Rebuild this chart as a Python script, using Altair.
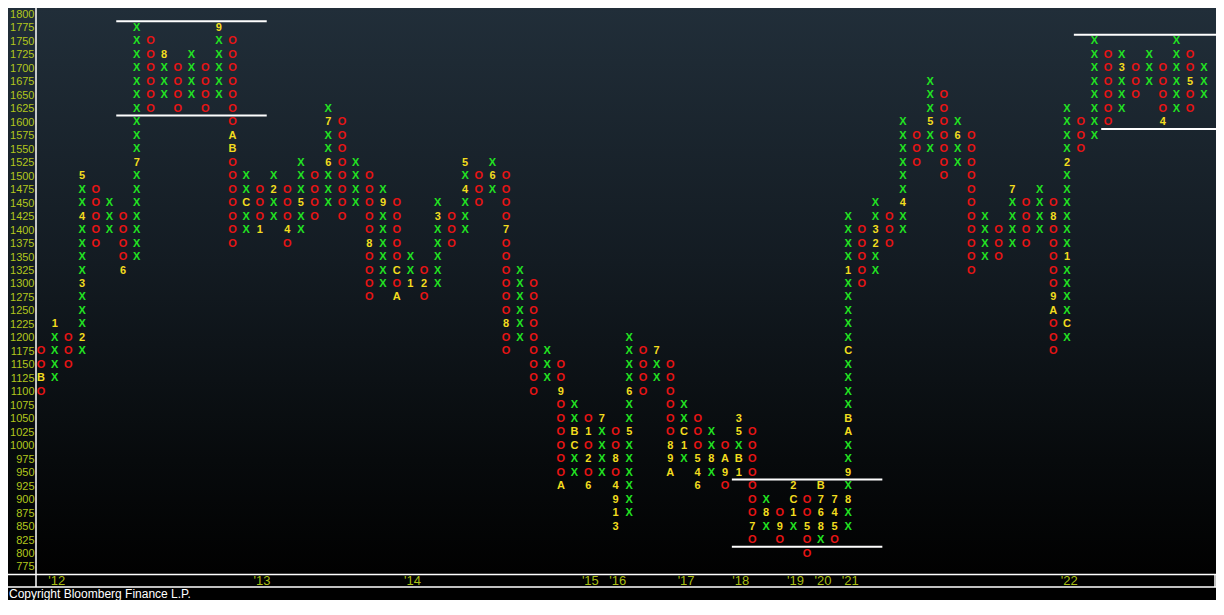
import altair as alt
import pandas as pd

# ---- point & figure columns (box size 25) ----
col_kind = ["O", "X"] * 43
col_low = [1100, 1125, 1150, 1175, 1375, 1400, 1325, 1350, 1625, 1650,
           1625, 1650, 1625, 1650, 1375, 1400, 1400, 1425, 1375, 1400,
           1425, 1450, 1425, 1450, 1275, 1300, 1275, 1300, 1275, 1300,
           1375, 1400, 1450, 1475, 1175, 1200, 1100, 1125, 925, 950,
           925, 950, 850, 875, 1100, 1125, 950, 975, 925, 950,
           925, 950, 825, 850, 825, 850, 800, 825, 825, 850,
           1300, 1325, 1375, 1400, 1525, 1550, 1500, 1525, 1325, 1350,
           1350, 1375, 1375, 1400, 1175, 1200, 1550, 1575, 1600, 1625,
           1650, 1675, 1600, 1625, 1625, 1650]
col_high = [1175, 1225, 1200, 1500, 1475, 1450, 1425, 1775, 1750, 1725,
            1700, 1725, 1700, 1775, 1750, 1500, 1475, 1500, 1475, 1525,
            1500, 1625, 1600, 1525, 1500, 1475, 1450, 1350, 1325, 1450,
            1425, 1525, 1500, 1525, 1500, 1325, 1300, 1175, 1150, 1075,
            1050, 1050, 1025, 1200, 1175, 1175, 1150, 1075, 1050, 1025,
            1000, 1050, 1025, 900, 875, 925, 900, 925, 900, 1425,
            1400, 1450, 1425, 1600, 1575, 1675, 1650, 1600, 1575, 1425,
            1400, 1475, 1450, 1475, 1450, 1625, 1600, 1750, 1725, 1725,
            1700, 1725, 1700, 1750, 1725, 1700]

# month markers (column, price, label)
mark_col = [1, 2, 4, 4, 4, 4, 7, 8, 10, 14, 15, 15, 16, 17, 18, 19, 20, 22, 22,
            25, 26, 27, 27, 28, 29, 30, 32, 32, 34, 35, 35, 39, 39, 40, 40,
            41, 41, 41, 42, 43, 43, 43, 43, 43, 44, 44, 46, 47, 47, 47, 48, 48,
            49, 49, 49, 50, 51, 51, 52, 52, 52, 52, 53, 54, 55, 56, 56, 56, 57,
            58, 58, 58, 58, 59, 59, 59, 60, 60, 60, 60, 60, 60, 62, 62, 64, 66,
            68, 72, 75, 75, 75, 76, 76, 76, 80, 83, 85]
mark_price = [1125, 1225, 1200, 1300, 1425, 1500, 1325, 1525, 1725, 1775, 1575, 1550,
              1450, 1400, 1475, 1400, 1450, 1525, 1600,
              1375, 1450, 1325, 1275, 1300, 1300, 1425, 1475, 1525, 1500, 1400, 1225,
              1100, 925, 1025, 1000,
              1025, 975, 925, 1050, 975, 925, 900, 875, 850, 1025, 1100, 1175,
              1000, 975, 950, 1025, 1000,
              975, 950, 925, 975, 975, 950, 950, 975, 1025, 1050, 850, 875, 850,
              875, 900, 925, 850,
              850, 875, 900, 925, 900, 875, 850, 900, 950, 1025, 1050, 1175, 1325,
              1375, 1400, 1450, 1600,
              1575, 1475, 1425, 1275, 1250, 1225, 1350, 1525, 1700, 1600, 1675]
mark_label = ["B", "1", "2", "3", "4", "5", "6", "7", "8", "9", "A", "B", "C", "1", "2", "4", "5", "6", "7",
              "8", "9", "C", "A", "1", "2", "3", "4", "5", "6", "7", "8", "9", "A", "B", "C",
              "1", "2", "6", "7", "8", "4", "9", "1", "3", "5", "6", "7", "8", "9", "A", "C", "1",
              "5", "4", "6", "8", "A", "9", "1", "B", "5", "3", "7", "8", "9", "1", "C", "2", "5",
              "8", "6", "7", "B", "7", "4", "5", "8", "9", "A", "B", "C", "1", "2", "3", "4", "5",
              "6", "7", "8", "9", "A", "C", "1", "2", "3", "4", "5"]

# year labels: column where the year begins
year_col = [2, 17, 28, 41, 43, 48, 52, 56, 58, 60, 76]
year_label = ["'12", "'13", "'14", "'15", "'16", "'17", "'18", "'19", "'20", "'21", "'22"]

y_ticks = [775, 800, 825, 850, 875, 900, 925, 950, 975, 1000, 1025, 1050, 1075, 1100,
           1125, 1150, 1175, 1200, 1225, 1250, 1275, 1300, 1325, 1350, 1375, 1400,
           1425, 1450, 1475, 1500, 1525, 1550, 1575, 1600, 1625, 1650, 1675, 1700,
           1725, 1750, 1775, 1800]

# white range lines
line_x1 = [6.5, 6.5, 51.5, 51.5, 76.5, 78.5]
line_x2 = [17.5, 17.5, 62.5, 62.5, 87.5, 87.5]
line_y = [1787.5, 1612.5, 937.5, 812.5, 1762.5, 1587.5]

# ---- build cells ----
markers = {(c, p): l for c, p, l in zip(mark_col, mark_price, mark_label)}
rows = []
for i, (k, lo, hi) in enumerate(zip(col_kind, col_low, col_high), start=1):
    for p in range(lo, hi + 1, 25):
        lab = markers.get((i, p))
        if lab is not None:
            rows.append({"col": i, "price": p, "sym": lab, "kind": "M"})
        else:
            rows.append({"col": i, "price": p, "sym": k, "kind": k})
cells = pd.DataFrame(rows)
lines = pd.DataFrame({"x1": line_x1, "x2": line_x2, "y": line_y})

W, H, PL = 1178, 566, 30
xscale = alt.Scale(domain=[0.78, 86.89], nice=False, zero=False)
yscale = alt.Scale(domain=[762, 1812], nice=False, zero=False)
NARROW = "Liberation Sans Narrow, Arial Narrow, Liberation Sans, sans-serif"

expr = "".join(f"datum.value == {c - 0.5} ? \"{l}\" : " for c, l in zip(year_col, year_label)) + "''"

x_axis = alt.Axis(values=[c - 0.5 for c in year_col], labelExpr=expr, labelAlign="left",
                  labelBaseline="top", labelColor="#a9be14", labelFont=NARROW, labelFontSize=13,
                  ticks=False, domain=False, grid=False, labelPadding=0, labelOverlap=False,
                  labelFlush=False, title=None, zindex=2)
y_axis = alt.Axis(values=y_ticks, format="d", labelColor="#b2c61c", labelFont=NARROW,
                  labelFontSize=11, ticks=False, domain=False, grid=False, labelPadding=4,
                  labelOverlap=False, labelFlush=False, title=None, zindex=2)

one = alt.Data(values=[{"a": 1}])

bg = alt.Chart(one).mark_rect(
    fill=alt.LinearGradient(
        gradient="linear",
        stops=[alt.GradientStop(color="#212e39", offset=0),
               alt.GradientStop(color="#131b22", offset=0.45),
               alt.GradientStop(color="#070a0c", offset=0.8),
               alt.GradientStop(color="#010101", offset=1)],
        x1=0, x2=0, y1=0, y2=1)
).encode(x=alt.value(-PL), x2=alt.value(W), y=alt.value(0), y2=alt.value(H))

rng = alt.Chart(lines).mark_rule(color="white", strokeWidth=2, clip=True).encode(
    x=alt.X("x1:Q", scale=xscale, axis=x_axis),
    x2="x2:Q",
    y=alt.Y("y:Q", scale=yscale, axis=y_axis),
)

frame_top = alt.Chart(one).mark_rule(color="white", strokeWidth=1.5).encode(
    x=alt.value(-PL), x2=alt.value(W), y=alt.value(H + 0.5))
frame_bot = alt.Chart(one).mark_rule(color="white", strokeWidth=1.5).encode(
    x=alt.value(-PL), x2=alt.value(W), y=alt.value(H + 13))
frame_left = alt.Chart(one).mark_rule(color="white", strokeWidth=1.5).encode(
    x=alt.value(-2), y=alt.value(0), y2=alt.value(H + 13))
frame_right = alt.Chart(one).mark_rule(color="white", strokeWidth=1.5).encode(
    x=alt.value(W - 1), y=alt.value(H), y2=alt.value(H + 13))

pts = alt.Chart(cells).mark_text(
    font="Liberation Sans", fontWeight="bold", fontSize=11, align="center", baseline="middle"
).encode(
    x=alt.X("col:Q", scale=xscale, axis=x_axis),
    y=alt.Y("price:Q", scale=yscale, axis=y_axis),
    text="sym:N",
    color=alt.Color("kind:N", scale=alt.Scale(domain=["X", "O", "M"],
                                              range=["#22e322", "#e81414", "#f2dc1e"]),
                    legend=None),
)

copy = alt.Chart(one).mark_text(
    align="left", baseline="alphabetic", color="white", font=NARROW, fontSize=12
).encode(x=alt.value(-PL + 1), y=alt.value(H + 24), text=alt.value("Copyright Bloomberg Finance L.P."))

chart = alt.layer(bg, rng, frame_top, frame_bot, frame_left, frame_right, pts, copy).properties(
    width=W, height=H,
    autosize=alt.AutoSizeParams(type="none"),
    padding={"left": PL, "top": 0, "right": 0, "bottom": 26},
).configure(background="black").configure_view(stroke=None)

chart.save("out.html", embed_options={"renderer": "svg", "actions": False})
